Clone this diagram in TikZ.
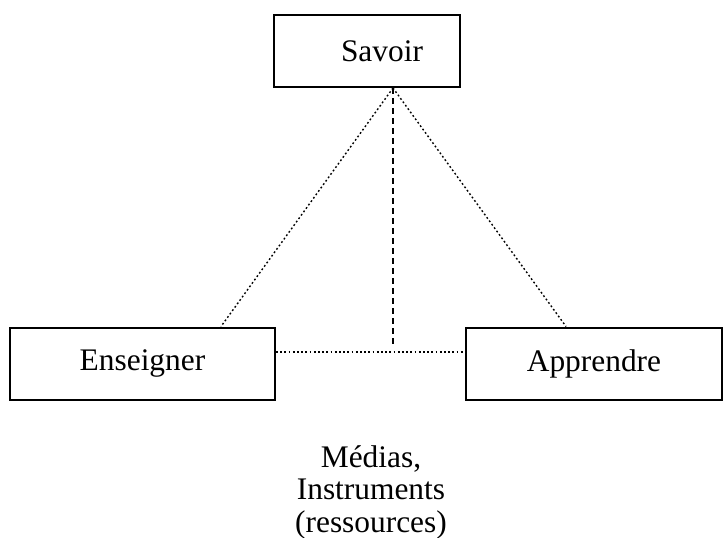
\documentclass[tikz,border=0pt]{standalone}
\usepackage{fontspec}
\setmainfont{Liberation Serif}
\usetikzlibrary{calc}

\tikzset{
  boite/.style={draw,line width=1pt,minimum height=36pt,inner sep=0pt,
    font=\fontsize{15.7}{16}\selectfont},
  pointille/.style={line width=0.7pt,dash pattern=on 0.9pt off 1.2pt},
  tirets/.style={line width=0.75pt,dash pattern=on 3pt off 2pt}
}

\begin{document}
\begin{tikzpicture}[x=0.5pt,y=-0.5pt]
\useasboundingbox (0,0) rectangle (723,537);
\node[boite,minimum width=93pt,
  label={[xshift=7.5pt,font=\fontsize{15.7}{16}\selectfont]center:Savoir}] (savoir) at (367,51) {};
\node[boite,minimum width=132.5pt] (enseigner) at (142.5,363.5) {Enseigner};
\node[boite,minimum width=128pt] (apprendre) at (594,363.5) {Apprendre};
\node[align=center,anchor=north,inner sep=0pt,
  font=\fontsize{15.7}{16.2}\selectfont] (medias) at (371,445) {Médias,\\Instruments\\(ressources)};
\coordinate (sommet) at ($(savoir.south)+(26,0)$);
\coordinate (pied) at (393,346);
\draw[pointille] (sommet) -- ($(enseigner.north east)+(-55,0)$);
\draw[pointille] (sommet) -- ($(apprendre.north west)+(101,0)$);
\draw[pointille] ($(enseigner.east)+(0,-11.5)$) -- ($(apprendre.west)+(0,-11.5)$);
\draw[tirets] (sommet) -- (pied);
\end{tikzpicture}
\end{document}
